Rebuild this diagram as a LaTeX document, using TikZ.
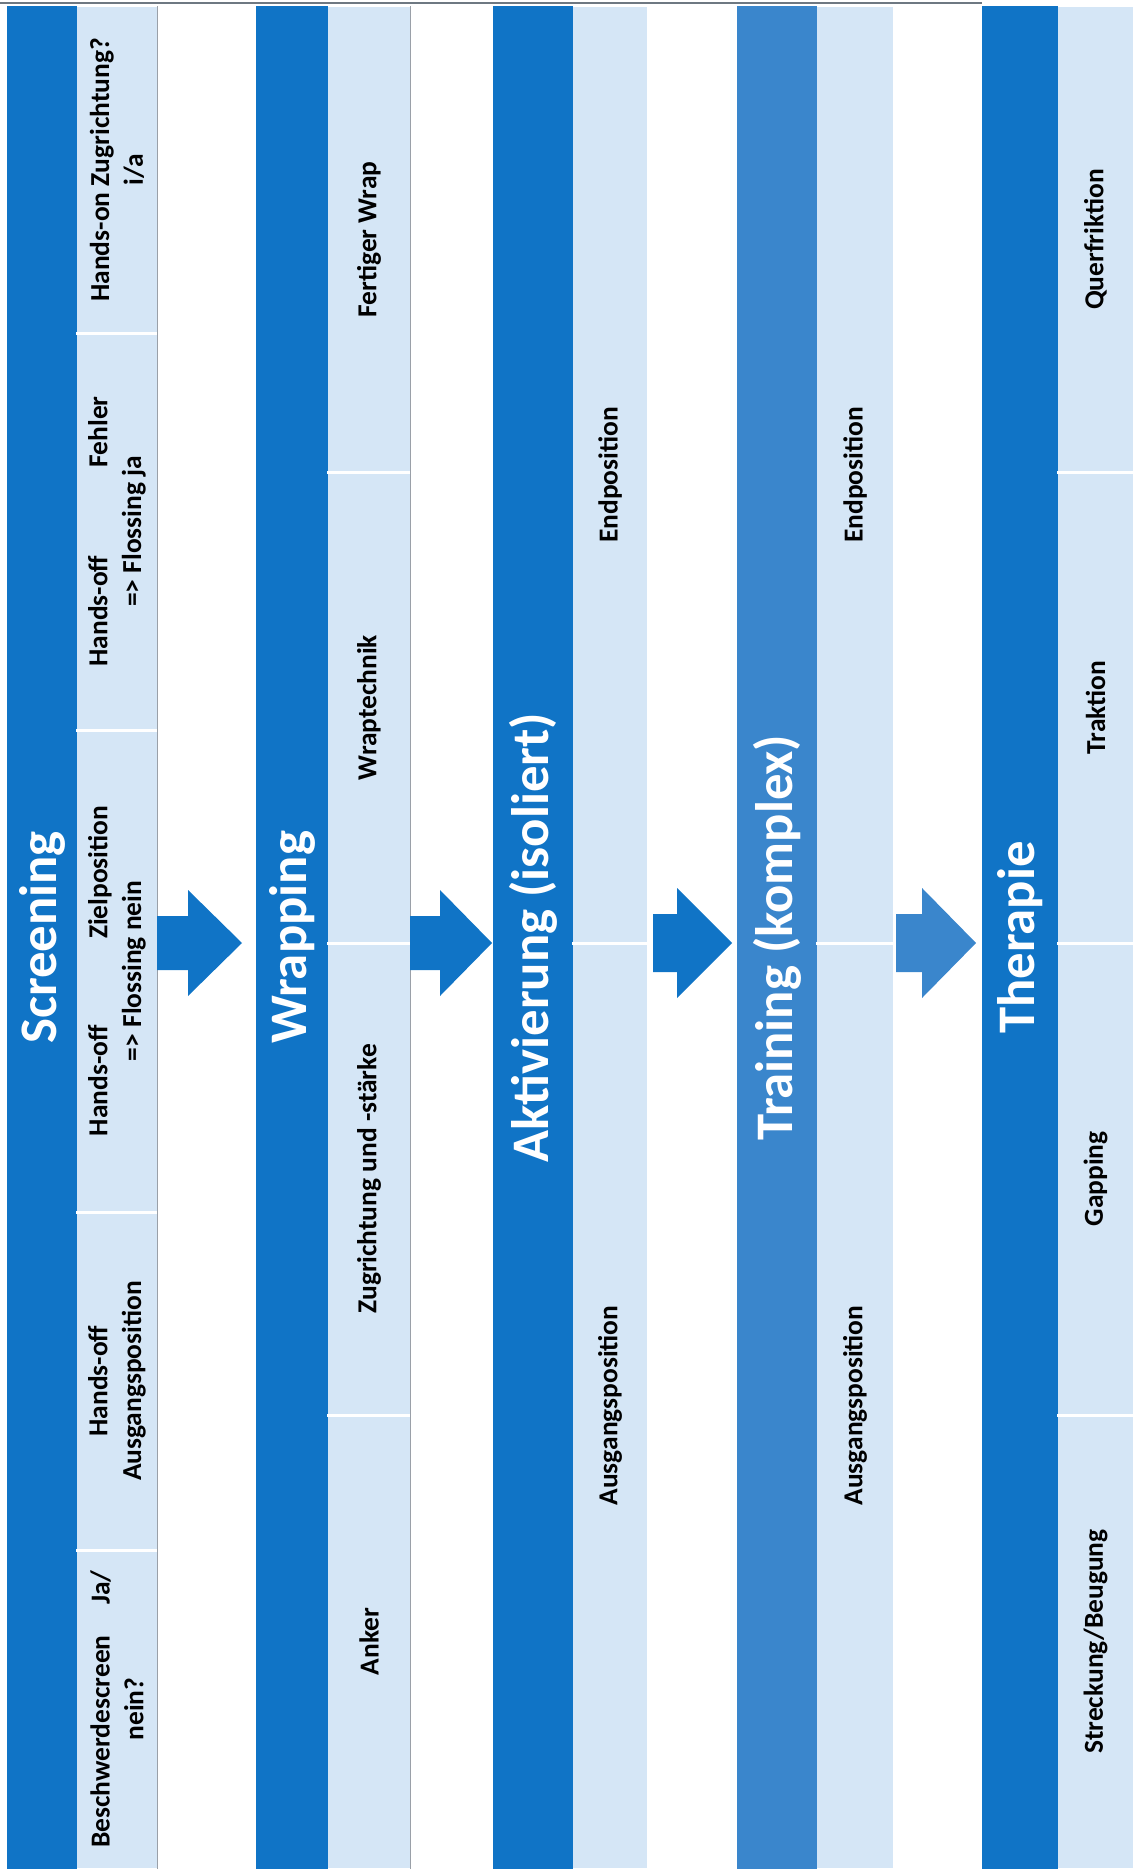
\documentclass[tikz,border=0pt]{standalone}
\usepackage{fontspec}
\setmainfont{Carlito}
\definecolor{phaseblue}{RGB}{16,116,198}
\definecolor{phasemid}{RGB}{58,134,204}
\definecolor{cellblue}{RGB}{213,230,246}
\definecolor{rulegrey}{RGB}{110,120,130}

\begin{document}
\begin{tikzpicture}[x=0.01cm, y=-0.01cm,
   phase/.style={rotate=90, inner sep=0pt, minimum width=18.61cm, text=white,
      font=\fontsize{15}{18}\selectfont\bfseries},
   cell/.style={rotate=90, inner sep=0pt, fill=cellblue, align=center,
      font=\fontsize{7.8}{9.6}\selectfont\bfseries},
   gap/.style={white, line width=0.03cm}]
\useasboundingbox (0,0) rectangle (1135,1874);
%
% phase bands
       \node [phase, fill=phaseblue, minimum height=0.70cm] at (42,937.5) (screening) {Screening};
          \node [phase, fill=phaseblue, minimum height=0.72cm] at (292,937.5) (wrapping) {Wrapping};
             \node [phase, fill=phaseblue, minimum height=0.80cm] at (533,937.5) (aktivierung) {Aktivierung (isoliert)};
               \node [phase, fill=phasemid, minimum height=0.80cm] at (777,937.5) (training) {Training (komplex)};
                 \node [phase, fill=phaseblue, minimum height=0.76cm] at (1020,937.5) (therapie) {Therapie};
%
% screening cells
\node [cell, minimum height=0.80cm, minimum width=3.26cm] at (117,170) (handson) {Hands-on Zugrichtung?\\i/a};
\node [cell, minimum height=0.80cm, minimum width=3.97cm] at (117,531.5) (fehler) {\makebox[2.7cm][s]{Hands-off Fehler}\\=> Flossing ja};
\node [cell, minimum height=0.80cm, minimum width=4.82cm] at (117,971) (ziel) {\makebox[3.3cm][s]{Hands-off Zielposition}\\=> Flossing nein};
\node [cell, minimum height=0.80cm, minimum width=3.38cm] at (117,1381) (ausgang) {Hands-off\\Ausgangsposition};
\node [cell, minimum height=0.80cm, minimum width=3.18cm] at (117,1709) (beschwerde) {\makebox[2.77cm][s]{Beschwerdescreen Ja/}\\nein?};
%
% wrapping cells
\node [cell, minimum height=0.82cm, minimum width=4.65cm] at (369,239.5) (fertig) {Fertiger Wrap};
\node [cell, minimum height=0.82cm, minimum width=4.71cm] at (369,707.5) (technik) {Wraptechnik};
\node [cell, minimum height=0.82cm, minimum width=4.72cm] at (369,1179) (zug) {Zugrichtung und -stärke};
\node [cell, minimum height=0.82cm, minimum width=4.53cm] at (369,1641.5) (anker) {Anker};
%
% aktivierung and training cells
\node [cell, minimum height=0.74cm, minimum width=9.36cm] at (610,475) (akt end) {Endposition};
\node [cell, minimum height=0.74cm, minimum width=9.25cm] at (610,1405.5) (akt start) {Ausgangsposition};
\node [cell, minimum height=0.76cm, minimum width=9.36cm] at (855,475) (tr end) {Endposition};
\node [cell, minimum height=0.76cm, minimum width=9.25cm] at (855,1405.5) (tr start) {Ausgangsposition};
%
% therapie cells
\node [cell, minimum height=0.75cm, minimum width=4.65cm] at (1095.5,239.5) (quer) {Querfriktion};
\node [cell, minimum height=0.75cm, minimum width=4.71cm] at (1095.5,707.5) (traktion) {Traktion};
\node [cell, minimum height=0.75cm, minimum width=4.72cm] at (1095.5,1179) (gapping) {Gapping};
\node [cell, minimum height=0.75cm, minimum width=4.53cm] at (1095.5,1641.5) (streckung) {Streckung/Beugung};
%
% cell gaps
\draw[gap] (handson.north west) -- (handson.south west);
\draw[gap] (fehler.north west) -- (fehler.south west);
\draw[gap] (ziel.north west) -- (ziel.south west);
\draw[gap] (ausgang.north west) -- (ausgang.south west);
\draw[gap] (fertig.north west) -- (fertig.south west);
\draw[gap] (technik.north west) -- (technik.south west);
\draw[gap] (zug.north west) -- (zug.south west);
\draw[gap] (akt end.north west) -- (akt end.south west);
\draw[gap] (tr end.north west) -- (tr end.south west);
\draw[gap] (quer.north west) -- (quer.south west);
\draw[gap] (traktion.north west) -- (traktion.south west);
\draw[gap] (gapping.north west) -- (gapping.south west);
%
% table rules
\draw[rulegrey, line width=0.015cm] (0,3) -- (982,3);
\draw[rulegrey!70, line width=0.01cm] (handson.south east) -- (beschwerde.south west);
\draw[rulegrey!70, line width=0.01cm] (fertig.south east) -- (anker.south west);
%
% arrows between phases
\coordinate (a1) at (157,943);
\coordinate (a2) at (410,943);
\coordinate (a3) at (653,943);
\coordinate (a4) at (896,943);
\fill[phaseblue] (a1) ++(0,-27) -- ++(31,0) -- ++(0,-26) -- ++(54,53) -- ++(-54,53) -- ++(0,-26) -- ++(-31,0) -- cycle;
\fill[phaseblue] (a2) ++(0,-27) -- ++(30,0) -- ++(0,-26) -- ++(52,53) -- ++(-52,53) -- ++(0,-26) -- ++(-30,0) -- cycle;
\fill[phaseblue] (a3) ++(0,-29) -- ++(24,0) -- ++(0,-26) -- ++(55,55) -- ++(-55,55) -- ++(0,-26) -- ++(-24,0) -- cycle;
\fill[phasemid] (a4) ++(0,-29) -- ++(26,0) -- ++(0,-26) -- ++(54,55) -- ++(-54,55) -- ++(0,-26) -- ++(-26,0) -- cycle;

\end{tikzpicture}
\end{document}
